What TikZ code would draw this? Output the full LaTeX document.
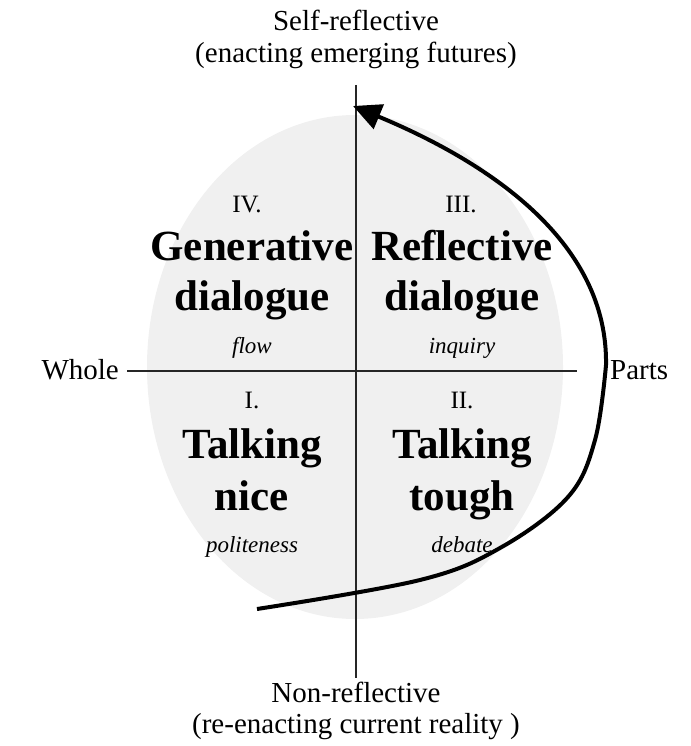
\documentclass[tikz,border=0pt]{standalone}
\usepackage{fontspec}
\setmainfont{Liberation Serif}
\usetikzlibrary{arrows.meta}
\definecolor{ellgrey}{RGB}{240,240,240}
\begin{document}
\begin{tikzpicture}[x=1pt,y=-1pt,
  axis/.style={line width=1.3pt,draw=black!85},
  big/.style={font=\fontsize{29}{31}\selectfont,anchor=base,inner sep=0pt},
  num/.style={font=\fontsize{25}{27}\selectfont,anchor=base,inner sep=0pt},
  title/.style={font=\fontsize{43}{48}\selectfont\bfseries,anchor=base,inner sep=0pt},
  sub/.style={font=\fontsize{23}{25}\selectfont\itshape,anchor=base,inner sep=0pt},
  curve/.style={line width=4pt,-{Triangle[length=28pt,width=26pt]}}
]
\useasboundingbox (0,0) rectangle (690,746);
\fill[ellgrey] (355,367) ellipse [x radius=208, y radius=252];
\coordinate (vt) at (356,85);
\coordinate (vb) at (356,678);
\coordinate (hl) at (127,371);
\coordinate (hr) at (577,371);
\draw[axis] (vt) -- (vb);
\draw[axis] (hl) -- (hr);
\node[big] (top1) at (356,31) {Self-reflective};
\node[big] (top2) at (356,63) {(enacting emerging futures)};
\node[big] (bot1) at (356,702) {Non-reflective};
\node[big] (bot2) at (356,733) {(re-enacting current reality )};
\node[big,anchor=base east] (whole) at (119,379) {Whole};
\node[big,anchor=base west] (parts) at (610,379) {Parts};
% IV
\node[num] (n4) at (247,212) {IV.};
\node[title] (t4a) at (252,260) {Generative};
\node[title] (t4b) at (252,310) {dialogue};
\node[sub] (s4) at (252,353) {flow};
% III
\node[num] (n3) at (461,212) {III.};
\node[title] (t3a) at (462,260) {Reflective};
\node[title] (t3b) at (462,310) {dialogue};
\node[sub] (s3) at (462,353) {inquiry};
% I
\node[num] (n1) at (252,408) {I.};
\node[title] (t1a) at (252,458) {Talking};
\node[title] (t1b) at (252,510) {nice};
\node[sub] (s1) at (252,552) {politeness};
% II
\node[num] (n2) at (462,408) {II.};
\node[title] (t2a) at (462,458) {Talking};
\node[title] (t2b) at (462,510) {tough};
\node[sub] (s2) at (462,552) {debate};
% arrow
\coordinate (c0) at (257,609);
\coordinate (c1) at (420,580);
\coordinate (c2) at (500,548);
\coordinate (c3) at (568,497);
\coordinate (c4) at (595,440);
\coordinate (c5) at (606,365);
\coordinate (c9) at (353,106);
\draw[curve] plot[smooth,tension=0.6] coordinates {(c0) (c1) (c2) (c3) (c4) (c5)}
  .. controls (608,245) and (495,165) .. (c9);
\end{tikzpicture}
\end{document}
